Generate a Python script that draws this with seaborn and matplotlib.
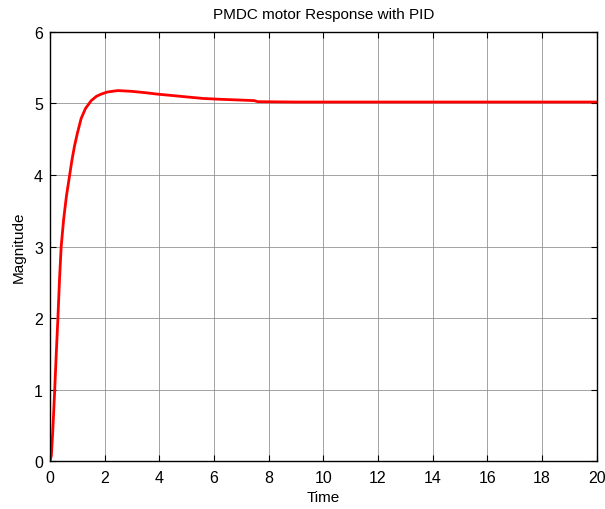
import matplotlib
matplotlib.use("Agg")
import matplotlib.pyplot as plt
import seaborn as sns
import pandas as pd

time = [0.0, 0.05, 0.1, 0.17, 0.23, 0.29, 0.35, 0.41, 0.5, 0.6, 0.72, 0.8, 0.9, 1.0, 1.14, 1.3, 1.51, 1.7, 1.87, 2.1, 2.48, 2.97, 3.5, 3.94, 4.5, 5.04, 5.6, 6.13, 6.8, 7.47, 7.6, 9.0, 12.0, 16.0, 20.0]
magnitude = [0.0, 0.08, 0.4, 0.97, 1.5, 2.0, 2.55, 3.0, 3.38, 3.7, 4.0, 4.2, 4.41, 4.58, 4.79, 4.93, 5.04, 5.1, 5.13, 5.16, 5.18, 5.17, 5.15, 5.13, 5.11, 5.09, 5.07, 5.06, 5.05, 5.04, 5.025, 5.02, 5.02, 5.02, 5.02]

title = "PMDC motor Response with PID"
xlabel = "Time"
ylabel = "Magnitude"
xticks = list(range(0, 21, 2))
yticks = list(range(0, 7))

sns.set_theme(style="white")
plt.rcParams['font.family'] = ['Liberation Sans', 'DejaVu Sans']

df = pd.DataFrame({"Time": time, "Magnitude": magnitude})

fig = plt.figure(figsize=(6.05, 5.1), dpi=100)
ax = fig.add_axes([0.0826, 0.0935, 0.9036, 0.842])
sns.lineplot(data=df, x="Time", y="Magnitude", ax=ax, color="#ff0000", linewidth=2)

ax.set_xlim(0, 20)
ax.set_ylim(0, 6)
ax.set_xticks(xticks)
ax.set_yticks(yticks)
ax.grid(True, color="#8c8c8c", linewidth=0.7, linestyle="-", alpha=0.8)
ax.set_axisbelow(True)
for s in ax.spines.values():
    s.set_color("black")
    s.set_linewidth(1.0)
ax.tick_params(direction="in", length=4, width=0.8, colors="black", labelsize=11.5,
               top=True, right=True, bottom=True, left=True)
ax.tick_params(axis="x", pad=6)
ax.tick_params(axis="y", pad=5)
ax.set_title(title, fontsize=11, color="black", pad=10)
ax.set_xlabel(xlabel, fontsize=11, color="black", labelpad=4)
ax.set_ylabel(ylabel, fontsize=11, color="black", labelpad=6)
fig.patch.set_facecolor("white")
ax.set_facecolor("white")
fig.savefig("out.png", dpi=100, facecolor="white")
